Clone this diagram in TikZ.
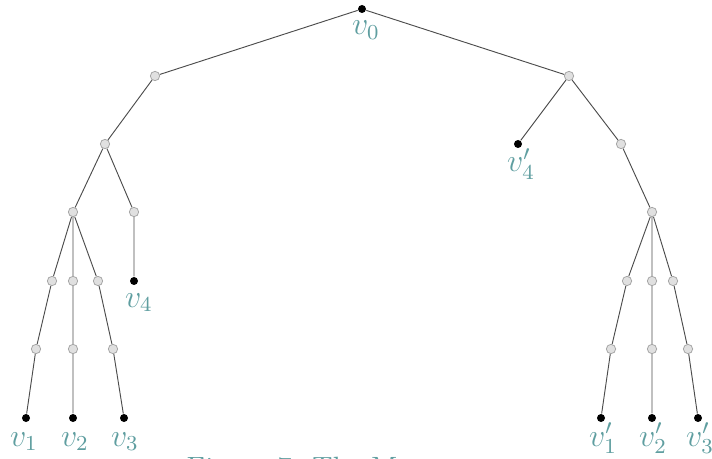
\documentclass[tikz,border=0pt]{standalone}
\usepackage{tikz}
\definecolor{cadet}{RGB}{95,158,160}
\begin{document}
\begin{tikzpicture}[x=0.375pt,y=-0.375pt,
  leaf/.style={circle, fill=black, inner sep=0pt, minimum size=3pt},
  mid/.style={circle, fill=black!12, draw=black!35, line width=0.3pt, inner sep=0pt, minimum size=3.5pt},
  edge/.style={draw=black!70, line width=0.35pt},
  lbl/.style={text=cadet, anchor=base, inner sep=0pt, font=\fontsize{11.5}{13}\selectfont}]
\useasboundingbox (0,0) rectangle (712,459);
% nodes
\node[leaf] (v0) at (362,9) {};
\node[mid] (l1) at (155,76) {};
\node[mid] (r1) at (569,76) {};
\node[mid] (l2) at (105,144) {};
\node[leaf] (v4p) at (518,144) {};
\node[mid] (r2) at (621,144) {};
\node[mid] (l3) at (73,212) {};
\node[mid] (l3b) at (134,212) {};
\node[mid] (r3) at (652,212) {};
\node[leaf] (v4) at (134,281) {};
\node[mid] (la4) at (52,281) {};
\node[mid] (lb4) at (73,281) {};
\node[mid] (lc4) at (98,281) {};
\node[mid] (la5) at (36,349) {};
\node[mid] (lb5) at (73,349) {};
\node[mid] (lc5) at (113,349) {};
\node[leaf] (v1) at (26,418) {};
\node[leaf] (v2) at (73,418) {};
\node[leaf] (v3) at (124,418) {};
\node[mid] (ra4) at (627,281) {};
\node[mid] (rb4) at (652,281) {};
\node[mid] (rc4) at (673,281) {};
\node[mid] (ra5) at (611,349) {};
\node[mid] (rb5) at (652,349) {};
\node[mid] (rc5) at (688,349) {};
\node[leaf] (v1p) at (601,418) {};
\node[leaf] (v2p) at (652,418) {};
\node[leaf] (v3p) at (698,418) {};
% edges
\path[edge] (v0) -- (l1) (v0) -- (r1)
  (l1) -- (l2) (l2) -- (l3) (l2) -- (l3b) (l3b) -- (v4)
  (l3) -- (la4) (la4) -- (la5) (la5) -- (v1)
  (l3) -- (lb4) (lb4) -- (lb5) (lb5) -- (v2)
  (l3) -- (lc4) (lc4) -- (lc5) (lc5) -- (v3)
  (r1) -- (v4p) (r1) -- (r2) (r2) -- (r3)
  (r3) -- (ra4) (ra4) -- (ra5) (ra5) -- (v1p)
  (r3) -- (rb4) (rb4) -- (rb5) (rb5) -- (v2p)
  (r3) -- (rc4) (rc4) -- (rc5) (rc5) -- (v3p);
% labels
\node[lbl] (t0) at (366,35) {$v_0$};
\node[lbl] (t4p) at (521,172) {$v_4'$};
\node[lbl] (t4) at (139,307) {$v_4$};
\node[lbl] (t1) at (24,446) {$v_1$};
\node[lbl] (t2) at (75,446) {$v_2$};
\node[lbl] (t3) at (125,446) {$v_3$};
\node[lbl] (t1p) at (603,446) {$v_1'$};
\node[lbl] (t2p) at (653,446) {$v_2'$};
\node[lbl] (t3p) at (700,446) {$v_3'$};
% caption (cut off by the page edge)
\begin{scope}
\clip (0,0) rectangle (712,459);
\node[lbl, anchor=base west, font=\fontsize{11}{13}\selectfont] (cap) at (186,477) {Figure 7: The M};
\end{scope}
\end{tikzpicture}
\end{document}
